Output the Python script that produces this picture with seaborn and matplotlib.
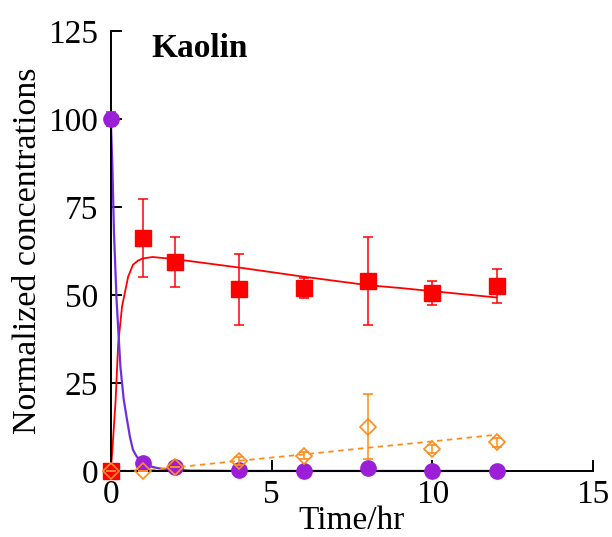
import matplotlib
matplotlib.use("Agg")
import matplotlib.pyplot as plt
import seaborn as sns
import numpy as np
import pandas as pd

# ---- data ----
time_pts = [0, 1, 2, 4, 6, 8, 10, 12]

red_vals = [0, 66.2, 59.4, 51.7, 52.0, 54.0, 50.6, 52.6]
red_err = [0, 11.2, 7.2, 10.1, 2.9, 12.6, 3.5, 4.9]

orange_vals = [0, 0.0, 1.0, 2.9, 4.3, 12.6, 6.2, 8.2]
orange_err = [0, 0, 0, 1.2, 1.0, 9.3, 1.1, 1.3]

purple_vals = [100, 2.2, 1.2, 0.2, 0.1, 0.8, 0.1, 0.1]
purple_err = [2.0, 0, 0, 0, 0, 0, 0, 0]

# model curves
red_curve_t = [0, 0.05, 0.1, 0.15, 0.23, 0.35, 0.54, 0.69, 0.85, 1.0, 1.3, 2, 3, 4, 5, 6, 7, 8, 9, 10, 11, 12]
red_curve_y = [0, 6, 13, 20, 36, 46.7, 55.2, 58.6, 59.8, 60.4, 60.8, 60.2, 59.0, 57.8, 56.5, 55.2, 54.0, 52.8, 52.0, 51.1, 50.2, 49.3]

purple_curve_t = [0, 0.05, 0.1, 0.18, 0.3, 0.4, 0.49, 0.6, 0.69, 0.8, 0.9, 1.0, 1.2, 1.45, 1.7, 2.5, 4, 12]
purple_curve_y = [100, 86.5, 67.6, 48.6, 29.6, 20.5, 15.4, 9.5, 6.0, 4.2, 3.0, 2.4, 1.4, 0.8, 0.5, 0.1, 0, 0]

orange_curve_t = [0, 1, 1.2, 2, 4, 6, 8, 10, 12]
orange_curve_y = [0, 0.2, 0.3, 1.0, 2.9, 4.7, 6.6, 8.4, 10.3]

x_ticks = [0, 5, 10, 15]
y_ticks = [0, 25, 50, 75, 100, 125]

RED = "#ff0000"
PURPLE = "#9b1fd6"
PURPLE_LINE = "#6e2fe0"
ORANGE = "#ff8c1a"

sns.set_style("ticks")
plt.rcParams["font.family"] = ["Liberation Serif", "DejaVu Serif"]
plt.rcParams["text.color"] = "black"
plt.rcParams["axes.labelcolor"] = "black"

fig = plt.figure(figsize=(6.12, 5.37), dpi=100)
ax = fig.add_axes([0.181, 0.123, 0.788, 0.819])

df_red = pd.DataFrame({"t": red_curve_t, "y": red_curve_y})
df_pur = pd.DataFrame({"t": purple_curve_t, "y": purple_curve_y})
df_org = pd.DataFrame({"t": orange_curve_t, "y": orange_curve_y})

sns.lineplot(data=df_red, x="t", y="y", ax=ax, color=RED, lw=1.3, sort=False)
sns.lineplot(data=df_pur, x="t", y="y", ax=ax, color=PURPLE_LINE, lw=1.6, sort=False, clip_on=False)
sns.lineplot(data=df_org, x="t", y="y", ax=ax, color=ORANGE, lw=1.3, sort=False, dashes=False, linestyle=(0, (3, 2.5)))

ax.errorbar(time_pts, red_vals, yerr=red_err, fmt="s", color=RED, ms=11,
            ecolor=RED, elinewidth=1.1, capsize=3.5, capthick=1.1, clip_on=False, zorder=5)
ax.errorbar(time_pts, orange_vals, yerr=orange_err, fmt="D", color=ORANGE, ms=8,
            mfc="none", mec=ORANGE, mew=1.2, ecolor=ORANGE, elinewidth=1.1,
            capsize=3.5, capthick=1.1, clip_on=False, zorder=6)
ax.errorbar(time_pts, purple_vals, yerr=purple_err, fmt="o", color=PURPLE, ms=11,
            ecolor=PURPLE_LINE, elinewidth=1.1, capsize=3.5, capthick=1.1, clip_on=False, zorder=4)

ax.set_xlim(0, 15)
ax.set_ylim(0, 125)
ax.set_xticks(x_ticks)
ax.set_yticks(y_ticks)
ax.set_xticklabels([str(v) for v in x_ticks])
ax.set_yticklabels([str(v) for v in y_ticks])

for s in ["top", "right"]:
    ax.spines[s].set_visible(False)
for s in ["left", "bottom"]:
    ax.spines[s].set_linewidth(1.4)
    ax.spines[s].set_color("black")

ax.tick_params(axis="both", direction="in", length=8, width=1.4, labelsize=24,
               pad=6, colors="black", labelcolor="black")
ax.tick_params(axis="y", pad=9)
ax.set_xlabel("Time/hr", fontsize=24, labelpad=-3, color="black")
ax.set_ylabel("Normalized concentrations", fontsize=24.5, labelpad=4, color="black")

ax.text(0.085, 0.961, "Kaolin", transform=ax.transAxes, fontsize=24,
        fontweight="bold", va="center", ha="left", color="black")

fig.savefig("out.png", dpi=100)
